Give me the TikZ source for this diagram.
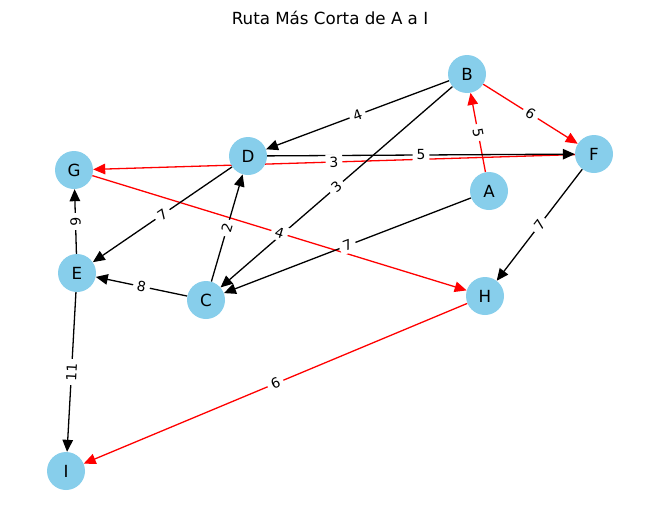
\documentclass[tikz,border=0pt]{standalone}
\usepackage{fontspec}
\setmainfont{DejaVu Sans}
\usetikzlibrary{arrows.meta}
\pgfdeclarelayer{bg}
\pgfsetlayers{bg,main}
\definecolor{sky}{HTML}{87CEEB}
\begin{document}
\begin{tikzpicture}[x=1pt,y=-1pt,
  vert/.style={circle,fill=sky,minimum size=38pt,inner sep=0pt,font=\fontsize{16.7}{20}\selectfont},
  edg/.style={line width=1.3pt,-{Triangle[length=12pt,width=10.5pt]}},
  lab/.style={fill=white,inner xsep=4pt,inner ysep=2.5pt,font=\fontsize{13.9}{16}\selectfont,sloped,midway}]
\useasboundingbox (0,0) rectangle (660,522);
\node[font=\fontsize{16.7}{20}\selectfont] (title) at (330,18) {Ruta Más Corta de A a I};
\node[vert] (A) at (489,191) {A};
\node[vert] (B) at (467,74) {B};
\node[vert] (C) at (206,300) {C};
\node[vert] (D) at (248,156) {D};
\node[vert] (E) at (77,273) {E};
\node[vert] (F) at (594,154) {F};
\node[vert] (G) at (74,170) {G};
\node[vert] (H) at (485,296) {H};
\node[vert] (I) at (66,471) {I};
\def\edgelist{A/B/red/5, B/F/red/6, F/G/red/3, G/H/red/4, H/I/red/6, B/D/black/4, B/C/black/3, D/F/black/5, A/C/black/7, C/D/black/2, D/E/black/7, C/E/black/8, E/G/black/6, E/I/black/11, F/H/black/7}
\begin{pgfonlayer}{bg}
\foreach \s/\t/\c/\w in \edgelist {
  \draw[edg,color=\c] (\s) -- (\t);
}
\end{pgfonlayer}
\foreach \s/\t/\c/\w in \edgelist {
  \path (\s.center) -- (\t.center) node[lab] {\w};
}
\end{tikzpicture}
\end{document}
